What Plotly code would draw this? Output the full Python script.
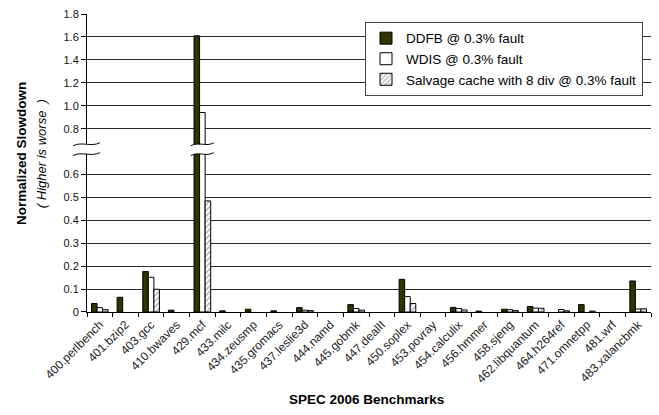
import plotly.graph_objects as go

categories = ["400.perlbench", "401.bzip2", "403.gcc", "410.bwaves", "429.mcf", "433.milc",
              "434.zeusmp", "435.gromacs", "437.leslie3d", "444.namd", "445.gobmk", "447.dealII",
              "450.soplex", "453.povray", "454.calculix", "456.hmmer", "458.sjeng",
              "462.libquantum", "464.h264ref", "471.omnetpp", "481.wrf", "483.xalancbmk"]

ddfb = [0.037, 0.064, 0.176, 0.008, 1.61, 0.005, 0.012, 0.005, 0.019, 0.0, 0.032, 0.0,
        0.142, 0.0, 0.020, 0.004, 0.012, 0.024, 0.0, 0.032, 0.0, 0.135]
wdis = [0.019, 0.0, 0.151, 0.0, 0.943, 0.0, 0.0, 0.0, 0.008, 0.0, 0.015, 0.0,
        0.067, 0.0, 0.015, 0.0, 0.010, 0.017, 0.011, 0.0, 0.0, 0.013]
salvage = [0.010, 0.0, 0.099, 0.0, 0.483, 0.0, 0.0, 0.0, 0.006, 0.0, 0.008, 0.0,
           0.037, 0.0, 0.009, 0.0, 0.006, 0.016, 0.005, 0.004, 0.0, 0.014]

series_names = ["DDFB @ 0.3% fault", "WDIS @ 0.3% fault", "Salvage cache with 8 div @ 0.3% fault"]

low_ticks = [0, 0.1, 0.2, 0.3, 0.4, 0.5, 0.6]
low_labels = ["0", "0.1", "0.2", "0.3", "0.4", "0.5", "0.6"]
high_ticks = [0.8, 1.0, 1.2, 1.4, 1.6, 1.8]
high_labels = ["0.8", "1.0", "1.2", "1.4", "1.6", "1.8"]

FONT = "Liberation Sans, Arial, sans-serif"
OLIVE = "#333300"

styles = [
    dict(color=OLIVE, line=dict(color="black", width=1)),
    dict(color="white", line=dict(color="black", width=1)),
    dict(color="white", line=dict(color="black", width=1),
         pattern=dict(shape="/", fgcolor="#555555", bgcolor="white", size=4, solidity=0.35)),
]

fig = go.Figure()
for vals, name, st in zip([ddfb, wdis, salvage], series_names, styles):
    shown = [v if v > 0 else None for v in vals]  # zero bars are not drawn
    # lower (0 - 0.6) panel
    fig.add_trace(go.Bar(x=categories, y=shown, name=name, marker=st,
                         xaxis="x", yaxis="y", showlegend=True, legendgroup=name))
    # upper (0.8 - 1.8) panel
    fig.add_trace(go.Bar(x=categories, y=shown, name=name, marker=st,
                         xaxis="x2", yaxis="y2", showlegend=False, legendgroup=name))

W, H = 659, 415
ml, mr, mt, mb = 87, 8, 10, 103
pw, ph = W - ml - mr, H - mt - mb


def px_x(p):
    return (p - ml) / pw


def px_y(p):
    return (H - mb - p) / ph


low_top = px_y(152)
up_bot = px_y(142)

axis_common = dict(showline=True, linecolor="black", linewidth=1, ticks="outside",
                   ticklen=5, tickcolor="black", gridcolor="#2a2a2a", gridwidth=1,
                   zeroline=False, tickfont=dict(family=FONT, size=11, color="#111111"))

fig.update_layout(
    width=W, height=H,
    margin=dict(l=ml, r=mr, t=mt, b=mb),
    paper_bgcolor="white", plot_bgcolor="white",
    barmode="group", bargap=0.35, bargroupgap=0,
    font=dict(family=FONT, color="black"),
    xaxis=dict(type="category", anchor="y", domain=[0, 1], showline=True, linecolor="black",
               ticks="outside", ticklen=4, tickcolor="black", tickson="boundaries",
               tickangle=-45, tickfont=dict(family=FONT, size=12, color="#222222"),
               showgrid=False),
    xaxis2=dict(type="category", anchor="y2", matches="x", visible=False, domain=[0, 1]),
    yaxis=dict(domain=[0, low_top], range=[0, 0.1 * (312 - 152) / 23.3],
               tickvals=low_ticks, ticktext=low_labels, **axis_common),
    yaxis2=dict(domain=[up_bot, 1], range=[1.8 - 0.2 * (142 - 10) / 23.3, 1.8],
                tickvals=high_ticks, ticktext=high_labels, **axis_common),
    legend=dict(x=px_x(643), y=px_y(18), xanchor="right", yanchor="top",
                bgcolor="white", bordercolor="#444444", borderwidth=1,
                font=dict(family=FONT, size=13.5, color="black"), tracegroupgap=0,
                traceorder="normal"),
    showlegend=True,
)

# axis titles
fig.add_annotation(text="<b>Normalized Slowdown</b>", xref="paper", yref="paper",
                   x=px_x(21), y=px_y(152), textangle=-90, showarrow=False,
                   xanchor="center", yanchor="middle", font=dict(family=FONT, size=13.5))
fig.add_annotation(text="<i>( Higher is worse  )</i>", xref="paper", yref="paper",
                   x=px_x(41), y=px_y(151), textangle=-90, showarrow=False,
                   xanchor="center", yanchor="middle", font=dict(family=FONT, size=13))
fig.add_annotation(text="<b>SPEC 2006 Benchmarks</b>", xref="paper", yref="paper",
                   x=px_x(366), y=px_y(401), showarrow=False,
                   xanchor="center", yanchor="middle", font=dict(family=FONT, size=13.5))


# break marks (decoration)
def wave(x0, x1, y, xref):
    a = 0.01
    xm1 = x0 + (x1 - x0) / 3
    xm2 = x0 + 2 * (x1 - x0) / 3
    return dict(type="path", xref=xref, yref="paper",
                path=f"M {x0},{y - a/2} C {xm1},{y + a} {xm2},{y - a} {x1},{y + a/2}",
                line=dict(color="black", width=1))


for yy in (up_bot, low_top):
    fig.add_shape(**wave(px_x(73), px_x(100), yy, "paper"))
    fig.add_shape(**wave(3.55, 4.45, yy, "x"))

fig.write_html("out.html")
